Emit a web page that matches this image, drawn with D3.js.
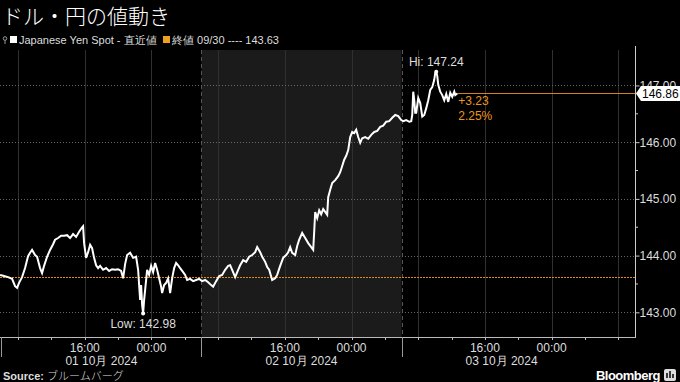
<!DOCTYPE html>
<html><head><meta charset="utf-8">
<script src="https://cdn.jsdelivr.net/npm/d3@7"></script>
<style>
html,body{margin:0;padding:0;background:#000;}
svg{display:block;font-family:"Liberation Sans","DejaVu Sans",sans-serif;}
</style></head>
<body>
<svg id="c" width="680" height="382"></svg>
<script>
// ---- data ----
const title = "ドル・円の値動き";
const seriesName = "Japanese Yen Spot - 直近値";
const refLabel = "終値 09/30 ---- 143.63";
const prevClose = 143.63;
const lastValue = 146.86;
const changeText = "+3.23";
const changePct = "2.25%";
const hiValue = 147.24;
const loValue = 142.98;
const sourceText = "ブルームバーグ";
// hours since 2024-10-01 06:00 (chart time)
const hours = [
-0.16,0.32,0.80,1.28,1.64,1.88,2.12,2.48,2.84,3.20,3.44,3.68,4.04,4.28,4.64,4.88,5.12,5.48,5.84,6.20,
6.44,6.80,7.16,7.52,7.88,8.24,8.60,8.96,9.32,9.68,9.80,9.92,10.16,10.40,10.64,10.88,11.12,11.36,11.60,11.84,
12.20,12.56,12.92,13.28,13.64,14.00,14.36,14.60,14.84,15.08,15.44,15.80,16.16,16.40,16.64,16.76,16.88,17.00,17.12,17.24,
17.48,17.72,17.96,18.20,18.44,18.68,18.92,19.16,19.28,19.52,19.76,20.00,20.24,20.48,20.72,20.96,21.20,21.44,21.80,22.04,
22.28,22.64,23.00,23.36,23.72,24.08,24.44,24.80,25.16,25.40,25.76,26.12,
26.48,26.84,27.20,27.44,27.68,28.04,28.40,28.64,29.00,29.36,29.72,30.08,30.44,30.68,31.04,31.28,31.64,31.88,32.12,32.48,
32.84,33.08,33.44,33.80,34.16,34.40,34.64,34.88,35.24,35.48,35.72,36.08,36.44,36.80,37.16,37.40,37.52,37.64,37.88,38.12,
38.36,38.60,38.84,39.08,39.20,39.44,39.68,40.04,40.40,40.64,40.88,41.12,41.36,41.60,41.84,42.08,42.32,42.56,42.80,43.04,
43.28,43.64,44.00,44.36,44.72,45.08,45.44,45.80,46.16,46.52,46.88,47.24,47.60,47.96,
48.20,48.56,48.92,49.16,49.28,49.40,49.52,49.64,49.76,50.00,50.24,50.48,50.72,50.96,51.20,51.44,51.68,51.92,52.04,52.16,
52.28,52.40,52.64,52.88,53.12,53.36,53.60,53.84,54.08,54.32,54.44,54.68
];
const prices = [
143.66,143.64,143.62,143.59,143.46,143.43,143.52,143.62,143.78,143.99,144.05,144.10,144.01,143.98,143.78,143.69,143.82,143.98,144.10,144.20,
144.28,144.31,144.35,144.35,144.36,144.31,144.38,144.33,144.42,144.50,144.52,144.22,143.96,144.06,144.19,144.13,143.96,143.83,143.78,143.82,
143.75,143.78,143.73,143.76,143.75,143.76,143.73,143.60,143.85,144.01,144.05,143.96,143.98,143.75,143.22,143.48,143.13,142.98,143.22,143.39,
143.75,143.66,143.82,143.71,143.87,143.75,143.60,143.45,143.34,143.48,143.52,143.60,143.34,143.60,143.78,143.87,143.83,143.78,143.71,143.66,
143.57,143.59,143.55,143.57,143.59,143.55,143.57,143.53,143.48,143.45,143.55,143.64,
143.66,143.75,143.82,143.83,143.75,143.62,143.75,143.83,143.92,143.89,143.98,144.01,144.06,144.15,144.06,143.98,143.89,143.80,143.75,143.57,
143.60,143.66,143.82,143.96,144.01,144.06,144.15,144.05,144.01,144.17,144.28,144.40,144.31,144.22,144.15,144.10,144.42,144.77,144.66,144.80,
144.73,144.82,144.77,144.72,145.03,145.16,145.28,145.33,145.40,145.47,145.58,145.69,145.76,145.86,146.09,146.18,146.16,146.22,146.09,145.99,
146.07,146.09,146.06,146.13,146.18,146.20,146.27,146.29,146.36,146.37,146.43,146.48,146.46,146.39,
146.37,146.39,146.36,146.37,146.48,146.89,146.74,146.52,146.52,146.78,146.69,146.45,146.48,146.60,146.74,146.92,146.97,147.10,147.22,147.24,
147.17,147.01,146.89,146.83,146.74,146.85,146.71,146.87,146.80,146.89,146.83,146.86
];
const yTicks = [143, 144, 145, 146, 147];
const dayStarts = ["2024-10-01T06:00:00Z", "2024-10-02T06:00:00Z", "2024-10-03T06:00:00Z"];
const dayLabels = ["01 10月 2024", "02 10月 2024", "03 10月 2024"];
const timeLabelHours = [16, 0];
const domainStart = "2024-10-01T05:50:00Z";
const domainEnd = "2024-10-04T10:00:00Z";

// ---- layout ----
const svg = d3.select("#c");
const L = 0, R = 635, T = 50, B = 337;
const base = new Date(dayStarts[0]).getTime();
const data = hours.map((h, i) => ({t: new Date(base + h * 3600e3), v: prices[i]}));

const x = d3.scaleUtc().domain([new Date(domainStart), new Date(domainEnd)]).range([L, R]);
const y = d3.scaleLinear().domain([142.565, 147.625]).range([B, T]);

// shaded day 2
const d2s = new Date(dayStarts[1]), d3s = new Date(dayStarts[2]);
svg.append("rect").attr("x", x(d2s)).attr("y", T).attr("width", x(d3s) - x(d2s)).attr("height", B - T).attr("fill", "#1b1b1b");

// vertical grid every 8h
x.ticks(d3.utcHour.every(8)).forEach(d => {
  const xx = Math.round(x(d)) + 0.5;
  svg.append("line").attr("x1", xx).attr("x2", xx).attr("y1", T).attr("y2", B)
    .attr("stroke", "#303030").attr("stroke-width", 1);
});
// day boundaries (dashed within plot)
dayStarts.slice(1).forEach(s => {
  const xx = Math.round(x(new Date(s))) + 0.5;
  svg.append("line").attr("x1", xx).attr("x2", xx).attr("y1", T).attr("y2", B)
    .attr("stroke", "#555").attr("stroke-dasharray", "4,3");
});
// horizontal grid dotted
yTicks.forEach(v => {
  const yy = Math.round(y(v)) + 0.5;
  svg.append("line").attr("x1", L).attr("x2", R).attr("y1", yy).attr("y2", yy)
    .attr("stroke", "#666").attr("stroke-dasharray", "1,2");
});
// previous close dotted orange
{
  const yy = Math.round(y(prevClose)) + 0.5;
  svg.append("line").attr("x1", L).attr("x2", R).attr("y1", yy).attr("y2", yy)
    .attr("stroke", "#e0881a").attr("stroke-width", 1).attr("stroke-dasharray", "2,1");
}
// last value line
const last = data[data.length - 1];
{
  const yy = Math.round(y(lastValue)) + 0.5;
  svg.append("line").attr("x1", x(last.t)).attr("x2", R).attr("y1", yy).attr("y2", yy)
    .attr("stroke", "#d4821e").attr("stroke-width", 1);
}

// series line
svg.append("path").datum(data)
  .attr("d", d3.line().x(d => x(d.t)).y(d => y(d.v)))
  .attr("fill", "none").attr("stroke", "#fff").attr("stroke-width", 2).attr("stroke-linejoin", "miter");

// hi / lo markers
const hiPt = data.find(d => d.v === hiValue), loPt = data.find(d => d.v === loValue);
svg.append("circle").attr("cx", x(hiPt.t)).attr("cy", y(hiPt.v)).attr("r", 2).attr("fill", "#fff");
svg.append("circle").attr("cx", x(loPt.t)).attr("cy", y(loPt.v)).attr("r", 2).attr("fill", "#fff");
svg.append("text").attr("x", x(hiPt.t)).attr("y", y(hiPt.v) - 6).attr("text-anchor", "middle")
  .attr("fill", "#ddd").attr("font-size", 12).text("Hi: " + hiValue.toFixed(2));
svg.append("text").attr("x", x(loPt.t)).attr("y", y(loPt.v) + 15).attr("text-anchor", "middle")
  .attr("fill", "#ddd").attr("font-size", 12).text("Low: " + loValue.toFixed(2));

// change annotation
svg.append("text").attr("x", x(last.t) + 1).attr("y", y(lastValue) + 12).attr("fill", "#e8961e").attr("font-size", 12).text(changeText);
svg.append("text").attr("x", x(last.t) + 1).attr("y", y(lastValue) + 27).attr("fill", "#e8961e").attr("font-size", 12).text(changePct);

// right axis
svg.append("line").attr("x1", R + 0.5).attr("x2", R + 0.5).attr("y1", T - 4).attr("y2", B).attr("stroke", "#ccc");
const yAxis = d3.axisRight(y).tickValues(yTicks).tickSize(4).tickFormat(d3.format(".2f"));
const ga = svg.append("g").attr("transform", `translate(${R + 0.5},0)`).call(yAxis);
ga.select(".domain").remove();
ga.selectAll("line").attr("stroke", "#ccc");
ga.selectAll("text").attr("fill", "#ddd").attr("font-size", 12).attr("x", 4).attr("font-family", "Liberation Sans, sans-serif");
// minor y ticks
yTicks.slice(0, -1).forEach(v => {
  svg.append("line").attr("x1", R).attr("x2", R + 3).attr("y1", y(v + 0.5)).attr("y2", y(v + 0.5)).attr("stroke", "#ccc");
});

// last value tag
{
  const yy = y(lastValue);
  svg.append("path").attr("d", `M${R + 1},${yy} L${R + 6},${yy - 7.5} L680,${yy - 7.5} L680,${yy + 7.5} L${R + 6},${yy + 7.5} Z`)
    .attr("fill", "#fff");
  svg.append("text").attr("x", R + 7).attr("y", yy + 4.5).attr("fill", "#000").attr("font-size", 12).text(lastValue.toFixed(2));
}

// bottom axis
svg.append("line").attr("x1", L).attr("x2", R + 1).attr("y1", B + 0.5).attr("y2", B + 0.5).attr("stroke", "#bbb");
x.ticks(d3.utcHour.every(4)).forEach(d => {
  const xx = Math.round(x(d)) + 0.5;
  svg.append("line").attr("x1", xx).attr("x2", xx).attr("y1", B).attr("y2", B + 3).attr("stroke", "#bbb");
});
dayStarts.forEach(s => {
  const xx = Math.round(x(new Date(s))) + 0.5;
  svg.append("line").attr("x1", xx).attr("x2", xx).attr("y1", B).attr("y2", 357).attr("stroke", "#999");
});
const fmt = d3.utcFormat("%H:%M");
x.ticks(d3.utcHour.every(8)).filter(d => timeLabelHours.includes(d.getUTCHours())).forEach(d => {
  svg.append("text").attr("x", x(d)).attr("y", 352).attr("text-anchor", "middle")
    .attr("fill", "#ddd").attr("font-size", 12).text(fmt(d));
});
dayStarts.forEach((s, i) => {
  const a = new Date(s), b = new Date(a.getTime() + 24 * 3600e3);
  svg.append("text").attr("x", (x(a) + x(b)) / 2).attr("y", 365).attr("text-anchor", "middle")
    .attr("fill", "#ddd").attr("font-size", 12).text(dayLabels[i]);
});

// title
svg.append("text").attr("x", 2).attr("y", 24).attr("fill", "#fff").attr("font-size", 21)
  .attr("font-family", "Noto Sans CJK JP").attr("font-weight", 300).text(title);

// legend
svg.append("circle").attr("cx", 5).attr("cy", 38.5).attr("r", 1.8).attr("fill", "none").attr("stroke", "#999");
svg.append("line").attr("x1", 5).attr("x2", 5).attr("y1", 40).attr("y2", 44).attr("stroke", "#999");
svg.append("rect").attr("x", 10).attr("y", 36).attr("width", 7).attr("height", 7).attr("fill", "#fff");
svg.append("text").attr("x", 19).attr("y", 44).attr("fill", "#ddd").attr("font-size", 11).text(seriesName);
svg.append("rect").attr("x", 163).attr("y", 36).attr("width", 7).attr("height", 7).attr("fill", "#f0a020");
svg.append("text").attr("x", 172).attr("y", 44).attr("fill", "#ddd").attr("font-size", 11).text(refLabel);

// footer
const ft = svg.append("text").attr("x", 3).attr("y", 380).attr("fill", "#ddd").attr("font-size", 11);
ft.append("tspan").attr("font-weight", "bold").text("Source: ");
ft.append("tspan").attr("font-family", "Noto Sans CJK JP").attr("font-weight", 300).text(sourceText);
svg.append("text").attr("x", 660).attr("y", 380).attr("text-anchor", "end").attr("fill", "#fff")
  .attr("font-size", 13).attr("font-weight", "bold").attr("letter-spacing", -0.5).text("Bloomberg");
svg.append("rect").attr("x", 664).attr("y", 369).attr("width", 12).attr("height", 12).attr("rx", 2).attr("fill", "#ddd");
svg.append("path").attr("d", "M667,378 L667,373 M670,378 L670,371 M673,378 L673,374").attr("stroke", "#000").attr("stroke-width", 1.5);
</script>
</body></html>
